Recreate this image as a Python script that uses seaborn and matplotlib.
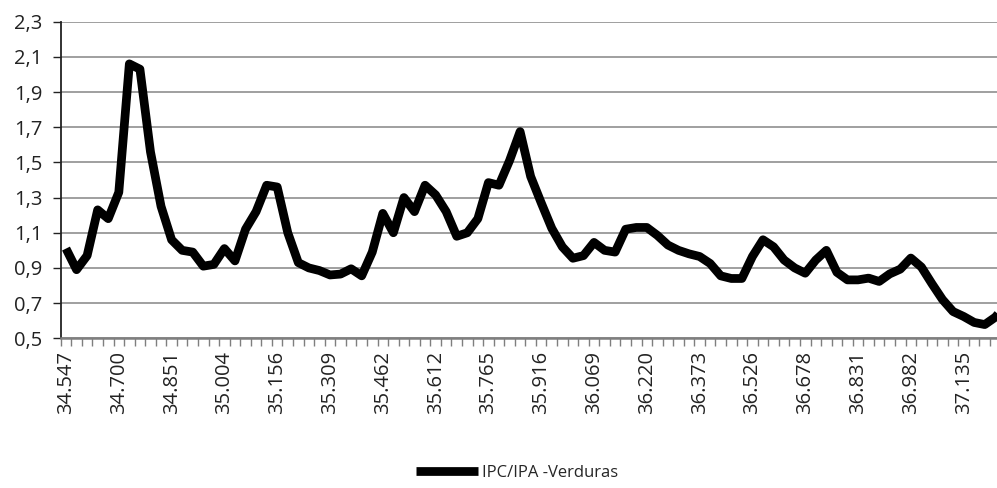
import numpy as np
import pandas as pd
import matplotlib.pyplot as plt
import seaborn as sns

# Serie mensual IPC/IPA - Verduras
valores = [
    1.01, 0.89, 0.97, 1.23, 1.18, 1.33, 2.06, 2.03, 1.56, 1.25,
    1.06, 1.00, 0.99, 0.91, 0.92, 1.01, 0.94, 1.12, 1.22, 1.37,
    1.36, 1.10, 0.93, 0.90, 0.885, 0.86, 0.865, 0.895, 0.855, 0.99,
    1.21, 1.10, 1.30, 1.22, 1.37, 1.315, 1.22, 1.08, 1.10, 1.18,
    1.385, 1.37, 1.51, 1.675, 1.42, 1.27, 1.125, 1.02, 0.955, 0.97,
    1.045, 1.00, 0.99, 1.12, 1.13, 1.13, 1.085, 1.03, 1.00, 0.98,
    0.965, 0.925, 0.855, 0.84, 0.84, 0.965, 1.06, 1.02, 0.945, 0.90,
    0.87, 0.945, 1.00, 0.875, 0.832, 0.832, 0.842, 0.823, 0.866, 0.893,
    0.956, 0.905, 0.81, 0.72, 0.652, 0.624, 0.59, 0.578, 0.62, 0.69,
]
etiquetas_x = [
    "34.547", "34.700", "34.851", "35.004", "35.156", "35.309",
    "35.462", "35.612", "35.765", "35.916", "36.069", "36.220",
    "36.373", "36.526", "36.678", "36.831", "36.982", "37.135",
]
ticks_y = [0.5, 0.7, 0.9, 1.1, 1.3, 1.5, 1.7, 1.9, 2.1, 2.3]
etiquetas_y = ["0,5", "0,7", "0,9", "1,1", "1,3", "1,5", "1,7", "1,9", "2,1", "2,3"]

df = pd.DataFrame({"mes": np.arange(len(valores)), "valor": valores})

sns.set_theme(style="white")
plt.rcParams["font.family"] = ["Open Sans", "DejaVu Sans"]

fig = plt.figure(figsize=(9.97, 4.88), dpi=100)
ax = fig.add_axes([0.0609, 0.3068, 0.9533, 0.6488])

sns.lineplot(data=df, x="mes", y="valor", ax=ax, color="black", lw=6.3,
             solid_joinstyle="round", solid_capstyle="round",
             label="IPC/IPA -Verduras", legend=False)

ax.set_xlim(-0.5, len(valores) - 0.5)
ax.set_ylim(0.5, 2.3)
ax.set_xlabel("")
ax.set_ylabel("")

# grilla horizontal
ax.yaxis.grid(True, color="#858585", lw=1.1)
ax.set_axisbelow(True)

ax.set_yticks(ticks_y)
ax.set_yticklabels(etiquetas_y, fontsize=14.5, color="#222222")
ax.tick_params(axis="y", direction="out", length=6, width=1, color="#222222", pad=7, left=True)

ax.set_xticks(np.arange(0, len(etiquetas_x) * 5, 5))
ax.set_xticklabels(etiquetas_x, rotation=90, fontsize=14.5, color="#222222")
ax.set_xticks(np.arange(-0.5, len(valores), 1), minor=True)
ax.tick_params(axis="x", which="major", length=0, pad=9)
ax.tick_params(axis="x", which="minor", direction="out", length=6, width=1,
               color="#7f7f7f", bottom=True)

for s in ["top", "right"]:
    ax.spines[s].set_visible(False)
ax.spines["left"].set_color("#222222")
ax.spines["left"].set_linewidth(1.3)
ax.spines["bottom"].set_color("#7f7f7f")
ax.spines["bottom"].set_linewidth(1.8)

handles, labels = ax.get_legend_handles_labels()
for h in handles:
    h.set_solid_capstyle("butt")
fig.legend(handles, labels, loc="center", bbox_to_anchor=(517 / 997, 15 / 488),
           frameon=False, fontsize=12, handlelength=3.7, handletextpad=0.25)

fig.savefig("out.png", dpi=100)
